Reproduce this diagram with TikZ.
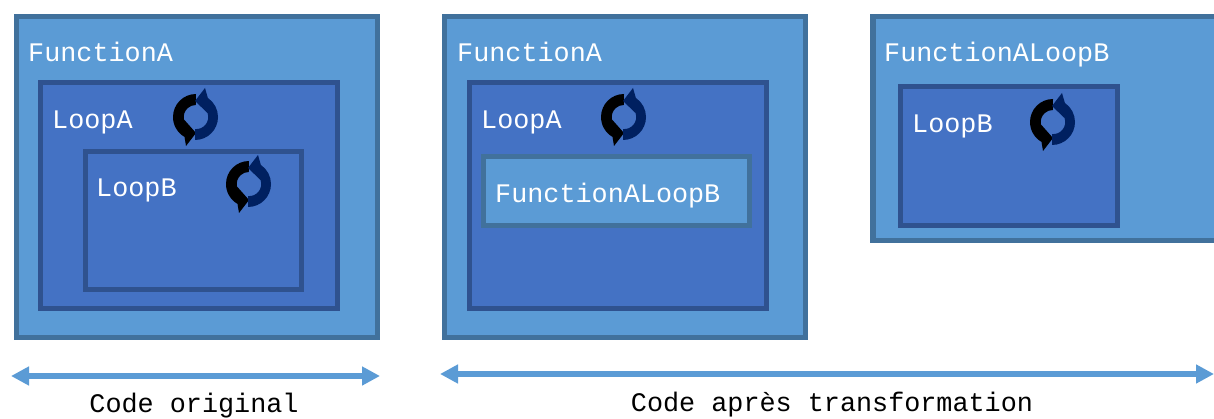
\documentclass[tikz,border=0pt]{standalone}
\usepackage{fontspec}
\setmainfont{Liberation Mono}
\usetikzlibrary{arrows.meta}
\definecolor{funcfill}{HTML}{5B9BD5}
\definecolor{funcline}{HTML}{41719C}
\definecolor{loopfill}{HTML}{4472C4}
\definecolor{loopline}{HTML}{2F528F}
\definecolor{navyloop}{HTML}{002060}

\begin{document}
\begin{tikzpicture}[x=1pt,y=1pt]
    \tikzset{funcbox/.style = {rectangle, draw=funcline, fill=funcfill, line width=5.6pt, outer sep=0pt, anchor=north west}, }
    \tikzset{loopbox/.style = {rectangle, draw=loopline, fill=loopfill, line width=5.6pt, outer sep=0pt, anchor=north west}, }
    \tikzset{boxlabel/.style = {text=white, anchor=base west, inner sep=0pt, font=\fontsize{26.8}{30}\selectfont}, }
    \tikzset{caption/.style = {text=black, anchor=base, inner sep=0pt, font=\fontsize{26.8}{30}\selectfont}, }
    \tikzset{span/.style = {line width=6.5pt, draw=funcfill, {Triangle[length=18pt,width=18pt]}-{Triangle[length=18pt,width=18pt]}}, }
    \tikzset{loopicon/.pic = {
       \fill[black] (0,23) arc[start angle=90,end angle=240,radius=23] -- (-10,-29) -- (0,-16) -- (-12,-2.5) arc[start angle=192,end angle=90,radius=12] -- cycle;
       \fill[navyloop] (-1,-23) arc[start angle=270,end angle=416,radius=23] -- (9,29) -- (-1,16) -- (11.5,4) arc[start angle=20,end angle=-95,radius=12] -- cycle;
    }, }
    \useasboundingbox (0,0) rectangle (1214,418);

    % original code
    \node[funcbox, minimum width=361, minimum height=321] (FA1) at (16.5,401.5) {};
    \node[loopbox, minimum width=297, minimum height=226] (LA1) at (40.5,335.5) {};
    \node[loopbox, minimum width=216, minimum height=138] (LB1) at (85.5,266.5) {};
    \node[boxlabel] (tFA1) at (28,356) {FunctionA};
    \node[boxlabel] (tLA1) at (52,289) {LoopA};
    \node[boxlabel] (tLB1) at (96,221) {LoopB};
    \pic at (196,301) {loopicon};
    \pic at (249,234) {loopicon};

    % transformed code
    \node[funcbox, minimum width=361, minimum height=321] (FA2) at (444.5,401.5) {};
    \node[loopbox, minimum width=297, minimum height=226] (LA2) at (469.5,335.5) {};
    \node[funcbox, minimum width=266, minimum height=69] (FB2) at (483.5,261.5) {};
    \node[boxlabel] (tFA2) at (457,356) {FunctionA};
    \node[boxlabel] (tLA2) at (481,289) {LoopA};
    \node[boxlabel] (tFB2) at (495,215) {FunctionALoopB};
    \pic at (624,301) {loopicon};

    \node[funcbox, minimum width=360, minimum height=224] (FB3) at (873,401.5) {};
    \node[loopbox, minimum width=217, minimum height=139] (LB3) at (900.5,331.5) {};
    \node[boxlabel] (tFB3) at (884,356) {FunctionALoopB};
    \node[boxlabel] (tLB3) at (912,285) {LoopB};
    \pic at (1053,296) {loopicon};

    % spans and captions
    \coordinate (o1) at (11,42);
    \coordinate (o2) at (380,42);
    \coordinate (t1) at (440,44);
    \coordinate (t2) at (1214,44);
    \draw[span] (o1) -- (o2);
    \draw[span] (t1) -- (t2);
    \node[caption] (cO) at (194,6) {Code original};
    \node[caption] (cT) at (832,7) {Code après transformation};
\end{tikzpicture}
\end{document}
